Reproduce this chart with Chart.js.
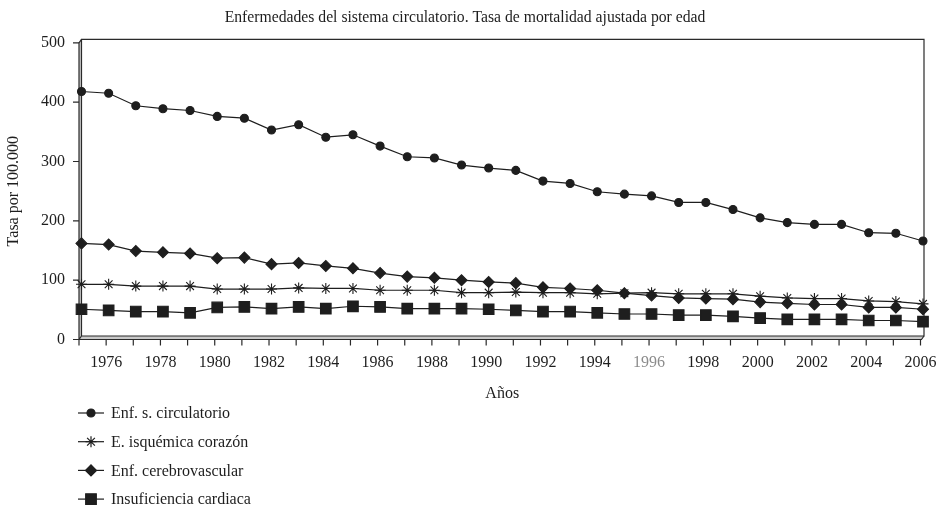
<!DOCTYPE html>
<html>
<head>
<meta charset="utf-8">
<title>Enfermedades del sistema circulatorio</title>
<script src="https://cdn.jsdelivr.net/npm/chart.js@4.4.1/dist/chart.umd.min.js"></script>
<style>
  body { margin: 0; background: #fff; }
  canvas { display: block; }
</style>
</head>
<body>
<canvas id="mortalityChart" width="947" height="515"></canvas>
<script>
// Tasa de mortalidad ajustada por edad (por 100.000), 1975-2006
const years = ['1975', '1976', '1977', '1978', '1979', '1980', '1981', '1982', '1983', '1984', '1985',
    '1986', '1987', '1988', '1989', '1990', '1991', '1992', '1993', '1994', '1995', '1996',
    '1997', '1998', '1999', '2000', '2001', '2002', '2003', '2004', '2005', '2006'];

const circulatorio = [418, 415, 394, 389, 386, 376, 373, 353, 362, 341, 345, 326, 308, 306, 294, 289,
    285, 267, 263, 249, 245, 242, 231, 231, 219, 205, 197, 194, 194, 180, 179, 166];
const isquemica = [93, 93, 90, 90, 90, 85, 85, 85, 87, 86, 86, 83, 83, 83, 79, 79,
    80, 79, 79, 77, 78, 79, 77, 77, 77, 73, 70, 69, 69, 65, 64, 60];
const cerebrovascular = [162, 160, 149, 147, 145, 137, 138, 127, 129, 124, 120, 112, 106, 104, 100, 97,
    95, 88, 86, 83, 78, 74, 70, 69, 68, 63, 61, 59, 59, 54, 54, 51];
const insuficiencia = [51, 49, 47, 47, 45, 54, 55, 52, 55, 52, 56, 55, 52, 52, 52, 51,
    49, 47, 47, 45, 43, 43, 41, 41, 39, 36, 34, 34, 34, 32, 32, 30];

const serif = "'Liberation Serif', 'DejaVu Serif', serif";
const ink = '#1e1e1e';

// Excel-like 3D frame: back wall, left wall and floor, ticks on the front plane
const depthX = 2.5;
const depthY = 3.5;

const framePlugin = {
    id: 'frame',
    beforeDatasetsDraw(chart) {
        const { ctx, chartArea: a, scales } = chart;
        const backR = a.right + 1;
        const frontL = a.left - depthX;
        const backTop = a.top - depthY;
        const backBottom = a.bottom - depthY;

        ctx.save();
        // wall + floor shading
        ctx.fillStyle = '#c9c9c9';
        ctx.beginPath();
        ctx.moveTo(frontL, a.top);
        ctx.lineTo(a.left, backTop);
        ctx.lineTo(a.left, backBottom);
        ctx.lineTo(backR, backBottom);
        ctx.lineTo(backR - depthX, a.bottom);
        ctx.lineTo(frontL, a.bottom);
        ctx.closePath();
        ctx.fill();

        ctx.strokeStyle = '#2a2a2a';
        ctx.lineWidth = 1.2;
        // back plane
        ctx.beginPath();
        ctx.moveTo(a.left, backBottom);
        ctx.lineTo(a.left, backTop);
        ctx.lineTo(backR, backTop);
        ctx.lineTo(backR, backBottom);
        ctx.lineTo(a.left, backBottom);
        ctx.stroke();
        // front edges
        ctx.beginPath();
        ctx.moveTo(a.left, backTop);
        ctx.lineTo(frontL, a.top);
        ctx.lineTo(frontL, a.bottom);
        ctx.lineTo(backR - depthX, a.bottom);
        ctx.lineTo(backR, backBottom);
        ctx.moveTo(frontL, a.bottom);
        ctx.lineTo(a.left, backBottom);
        ctx.stroke();

        // tick marks
        ctx.beginPath();
        scales.y.ticks.forEach(t => {
            const y = scales.y.getPixelForValue(t.value);
            ctx.moveTo(frontL - 6, y);
            ctx.lineTo(frontL, y);
        });
        scales.x.ticks.forEach((t, i) => {
            const x = scales.x.getPixelForTick(i) - depthX;
            ctx.moveTo(x, a.bottom);
            ctx.lineTo(x, a.bottom + 6);
        });
        ctx.stroke();
        ctx.restore();
    }
};

// vertical legend under the chart
const legendPlugin = {
    id: 'stackedLegend',
    afterDraw(chart) {
        const ctx = chart.ctx;
        ctx.save();
        ctx.font = '16px ' + serif;
        ctx.textBaseline = 'middle';
        chart.data.datasets.forEach((ds, i) => {
            const y = 413 + i * 28.7;
            ctx.strokeStyle = ink;
            ctx.fillStyle = ink;
            ctx.lineWidth = 1.2;
            ctx.beginPath();
            ctx.moveTo(78, y);
            ctx.lineTo(104, y);
            ctx.stroke();
            Chart.helpers.drawPoint(ctx, {
                pointStyle: ds.pointStyle,
                radius: ds.pointRadius,
                borderWidth: ds.pointBorderWidth,
                rotation: 0
            }, 91, y);
            ctx.fillStyle = ink;
            ctx.fillText(ds.label, 111, y + 1);
        });
        ctx.restore();
    }
};

function series(label, data, style, radius) {
    return {
        label: label,
        data: data,
        borderColor: ink,
        borderWidth: 1.2,
        backgroundColor: ink,
        pointBackgroundColor: ink,
        pointBorderColor: ink,
        pointBorderWidth: 1.1,
        pointStyle: style,
        pointRadius: radius,
        tension: 0,
        fill: false
    };
}

const mortalityChart = new Chart(document.getElementById('mortalityChart'), {
    type: 'line',
    data: {
        labels: years,
        datasets: [
            series('Enf. s. circulatorio', circulatorio, 'circle', 4),
            series('E. isquémica corazón', isquemica, 'star', 5.5),
            series('Enf. cerebrovascular', cerebrovascular, 'rectRot', 5.5),
            series('Insuficiencia cardiaca', insuficiencia, 'rect', 7.5)
        ]
    },
    options: {
        responsive: false,
        animation: false,
        layout: { padding: { top: 0, left: 0, right: 17, bottom: 107.5 } },
        plugins: {
            legend: { display: false },
            tooltip: { enabled: false },
            title: {
                display: true,
                text: 'Enfermedades del sistema circulatorio. Tasa de mortalidad ajustada por edad',
                color: ink,
                font: { family: serif, size: 15.7, weight: 'normal' },
                padding: { top: 8, bottom: 16 }
            }
        },
        scales: {
            x: {
                type: 'category',
                offset: false,
                border: { display: false },
                grid: { drawOnChartArea: false, drawTicks: true, tickLength: 6, color: 'transparent' },
                ticks: {
                    autoSkip: false,
                    maxRotation: 0,
                    padding: 8,
                    labelOffset: -depthX,
                    font: { family: serif, size: 16 },
                    color: c => years[c.index] === '1996' ? '#8c8c8c' : ink,
                    callback: (v, i) => (i % 2 === 1 ? years[i] : '')
                },
                title: {
                    display: true,
                    text: 'Años',
                    color: ink,
                    font: { family: serif, size: 16 },
                    padding: { top: 0, bottom: 4 }
                },
                afterFit: s => { s.height = 68; }
            },
            y: {
                min: 0,
                max: 500,
                border: { display: false },
                grid: { drawOnChartArea: false, drawTicks: true, tickLength: 6, color: 'transparent' },
                ticks: {
                    stepSize: 100,
                    padding: 10.5,
                    color: ink,
                    font: { family: serif, size: 16 }
                },
                title: {
                    display: true,
                    text: 'Tasa por 100.000',
                    color: ink,
                    font: { family: serif, size: 16 },
                    padding: { top: 4.5, bottom: 0 }
                },
                afterFit: s => { s.width = 81.5; }
            }
        }
    },
    plugins: [framePlugin, legendPlugin]
});
</script>
</body>
</html>
